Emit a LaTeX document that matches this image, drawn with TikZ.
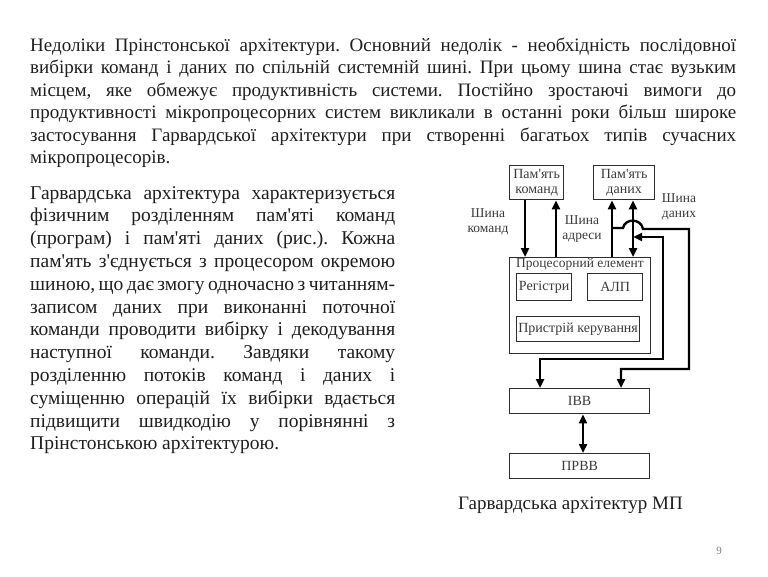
\documentclass[tikz,border=0pt]{standalone}
\usepackage{fontspec}
\setmainfont{Liberation Serif}[Ligatures=TeXOff]
\usetikzlibrary{arrows.meta}
\definecolor{txt}{HTML}{1E1E1E}
\definecolor{dtxt}{HTML}{3A3A3A}
\definecolor{boxc}{HTML}{2E2E2E}
\tikzset{
  tl/.style={anchor=base west, inner sep=0pt, text=txt, font=\fontsize{19}{22}\selectfont},
  bl/.style={tl, font=\fontsize{19.5}{22}\selectfont},
  blk/.style={draw=boxc, line width=1.3pt, anchor=north west, inner sep=0pt, text=dtxt,
              font=\fontsize{14}{15}\selectfont, align=center},
  lbl/.style={inner sep=0pt, text=dtxt, font=\fontsize{13.5}{15}\selectfont, align=center},
  bus/.style={line width=2.4pt, black, line join=miter},
  tip/.style={-{Triangle[length=9pt,width=8pt]}},
  dtip/.style={{Triangle[length=9pt,width=8pt]}-{Triangle[length=9pt,width=8pt]}},
}
\newcommand{\jl}[2]{\makebox[#1][s]{#2}}
\frenchspacing
\begin{document}
\begin{tikzpicture}[x=1pt,y=-1pt]
\useasboundingbox (0,0) rectangle (768,576);
% top paragraph
\node[tl] (t1) at (30,51) {\jl{706pt}{Недоліки Прінстонської архітектури. Основний недолік - необхідність послідовної}};
\node[tl] (t2) at (30,73.5) {\jl{706pt}{вибірки команд і даних по спільній системній шині. При цьому шина стає вузьким}};
\node[tl] (t3) at (30,96) {\jl{706pt}{місцем, яке обмежує продуктивність системи. Постійно зростаючі вимоги до}};
\node[tl] (t4) at (30,118.5) {\jl{706pt}{продуктивності мікропроцесорних систем викликали в останні роки більш широке}};
\node[tl] (t5) at (30,141) {\jl{706pt}{застосування Гарвардської архітектури при створенні багатьох типів сучасних}};
\node[tl] (t6) at (30,163.5) {мікропроцесорів.};
% left paragraph
\node[bl] (p1) at (30,199) {\jl{365pt}{Гарвардська архітектура характеризується}};
\node[bl] (p2) at (30,221.8) {\jl{365pt}{фізичним розділенням пам'яті команд}};
\node[bl] (p3) at (30,244.6) {\jl{365pt}{(програм) і пам'яті даних (рис.). Кожна}};
\node[bl] (p4) at (30,267.4) {\jl{365pt}{пам'ять з'єднується з процесором окремою}};
\node[bl] (p5) at (30,290.2) {\jl{365pt}{шиною, що дає змогу одночасно з читанням-}};
\node[bl] (p6) at (30,313) {\jl{365pt}{записом даних при виконанні поточної}};
\node[bl] (p7) at (30,335.8) {\jl{365pt}{команди проводити вибірку і декодування}};
\node[bl] (p8) at (30,358.6) {\jl{365pt}{наступної команди. Завдяки такому}};
\node[bl] (p9) at (30,381.4) {\jl{365pt}{розділенню потоків команд і даних і}};
\node[bl] (p10) at (30,404.2) {\jl{365pt}{суміщенню операцій їх вибірки вдається}};
\node[bl] (p11) at (30,427) {\jl{365pt}{підвищити швидкодію у порівнянні з}};
\node[bl] (p12) at (30,449.8) {Прінстонською архітектурою.};
% diagram boxes
\node[blk, minimum width=54pt, minimum height=34pt] (pk) at (509,165) {Пам'ять\\команд};
\node[blk, minimum width=61pt, minimum height=34pt] (pd) at (593,165) {Пам'ять\\даних};
\node[blk, minimum width=141pt, minimum height=96pt] (pe) at (509,257) {};
\node[lbl, font=\fontsize{13.5}{15}\selectfont] (pet) at (580,264.5) {Процесорний елемент};
\node[blk, minimum width=55pt, minimum height=27pt] (reg) at (516,273) {Регістри};
\node[blk, minimum width=55pt, minimum height=27pt] (alu) at (587,273) {АЛП};
\node[blk, minimum width=123pt, minimum height=25pt] (cu) at (516,316) {Пристрій керування};
\node[blk, minimum width=140pt, minimum height=25pt] (ivv) at (509,388) {ІВВ};
\node[blk, minimum width=140pt, minimum height=25pt] (prvv) at (509,453) {ПРВВ};
% labels
\node[lbl] (lk) at (488,222) {Шина\\команд};
\node[lbl] (la) at (582,229) {Шина\\адреси};
\node[lbl] (ld) at (679,207) {Шина\\даних};
% buses
\draw[bus,tip] ([xshift=16pt]pk.south west) -- ([xshift=16pt]pe.north west);
\draw[bus,tip] ([xshift=47pt]pe.north west) -- ([xshift=47pt]pk.south west);
\draw[bus,tip] ([xshift=19pt]pd.south west |- pe.north) -- ([xshift=19pt]pd.south west);
\draw[bus,dtip] ([xshift=40pt]pd.south west) -- ([xshift=40pt]pd.south west |- pe.north);
\coordinate (j1) at (612,228);
\coordinate (j2) at (633,237);
\draw[bus,tip] (j1) -- (623,228) .. controls (625,218) and (641,218) .. (643,229)
   -- (689,229) -- (689,369) -- (621,369) -- (ivv.north -| 621,0);
\draw[bus,dtip] (j2) -- (663,237) -- (663,359) -- (540,359) -- (ivv.north -| 540,0);
\draw[bus,dtip] ([xshift=74pt]ivv.south west) -- ([xshift=74pt]prvv.north west);
% caption and page number
\node[tl, font=\fontsize{19}{22}\selectfont] (cap) at (458,509) {Гарвардська архітектур МП};
\node[anchor=base, inner sep=0pt, text=gray, font=\fontsize{11}{12}\selectfont] (pg) at (719,554) {9};
\end{tikzpicture}
\end{document}
